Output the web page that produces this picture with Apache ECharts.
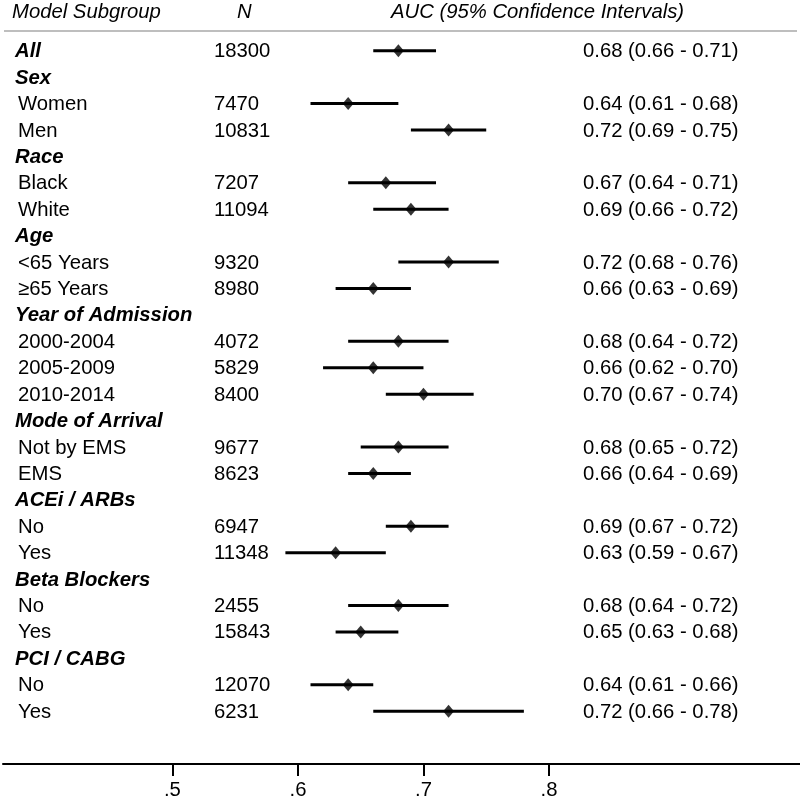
<!DOCTYPE html>
<html>
<head>
<meta charset="utf-8">
<style>html,body{margin:0;padding:0;background:#fff;}#chart{width:800px;height:801px;}</style>
<script src="https://cdn.jsdelivr.net/npm/echarts@6/dist/echarts.min.js"></script>
</head>
<body>
<div id="chart"></div>
<script>
const rowLabels = ['All','Sex','Women','Men','Race','Black','White','Age','<65 Years','≥65 Years','Year of Admission','2000-2004','2005-2009','2010-2014','Mode of Arrival','Not by EMS','EMS','ACEi / ARBs','No','Yes','Beta Blockers','No','Yes','PCI / CABG','No','Yes'];
const isHeader = [1,1,0,0,1,0,0,1,0,0,1,0,0,0,1,0,0,1,0,0,1,0,0,1,0,0];
const nValues = [18300,null,7470,10831,null,7207,11094,null,9320,8980,null,4072,5829,8400,null,9677,8623,null,6947,11348,null,2455,15843,null,12070,6231];
const auc    = [0.68,null,0.64,0.72,null,0.67,0.69,null,0.72,0.66,null,0.68,0.66,0.70,null,0.68,0.66,null,0.69,0.63,null,0.68,0.65,null,0.64,0.72];
const ciLow  = [0.66,null,0.61,0.69,null,0.64,0.66,null,0.68,0.63,null,0.64,0.62,0.67,null,0.65,0.64,null,0.67,0.59,null,0.64,0.63,null,0.61,0.66];
const ciHigh = [0.71,null,0.68,0.75,null,0.71,0.72,null,0.76,0.69,null,0.72,0.70,0.74,null,0.72,0.69,null,0.72,0.67,null,0.72,0.68,null,0.66,0.78];
const tickValues = [0.5,0.6,0.7,0.8];
const tickLabels = ['.5','.6','.7','.8'];
const headers = ['Model Subgroup','N','AUC (95% Confidence Intervals)'];

const FONT = "'Liberation Sans', Arial, sans-serif";
const FS = 20.3;
const chart = echarts.init(document.getElementById('chart'), null, {renderer:'canvas'});

const rowData = rowLabels.map((_, i) => [i]);
const ciData = [];
const ptData = [];
auc.forEach((v, i) => {
  if (v != null) {
    ciData.push([ciLow[i], ciHigh[i], i]);
    ptData.push([v, i]);
  }
});

const option = {
  animation: false,
  backgroundColor: '#fff',
  grid: {left: 3, right: 0, top: 24.26, bottom: 37, containLabel: false},
  xAxis: {
    type: 'value', min: 0.365, max: 1.0, position: 'bottom',
    axisLine: {show: true, onZero: false, lineStyle: {color: '#000', width: 2}},
    axisTick: {show: true, length: 12, lineStyle: {color: '#000', width: 2}, customValues: tickValues},
    axisLabel: {show: true, color: '#000', fontSize: FS, fontFamily: FONT, margin: 16,
      customValues: tickValues,
      formatter: v => { const k = tickValues.findIndex(t => Math.abs(t - v) < 1e-9); return k >= 0 ? tickLabels[k] : ''; }},
    splitLine: {show: false}
  },
  yAxis: {type: 'value', min: -1, max: 27, inverse: true, show: false},
  graphic: [
    {type: 'text', left: 12, top: 2, style: {text: headers[0], font: 'italic ' + FS + 'px ' + FONT, fill: '#000'}},
    {type: 'text', left: 237, top: 2, style: {text: headers[1], font: 'italic ' + FS + 'px ' + FONT, fill: '#000'}},
    {type: 'text', left: 391, top: 2, style: {text: headers[2], font: 'italic ' + FS + 'px ' + FONT, fill: '#000'}},
    {type: 'line', shape: {x1: 4, y1: 31, x2: 797, y2: 31}, style: {stroke: '#a8a8a8', lineWidth: 1.5}}
  ],
  series: [
    {
      type: 'custom', data: rowData, clip: false, silent: true,
      renderItem: (params, api) => {
        const i = api.value(0);
        const y = api.coord([0.5, i])[1] + 1;
        const children = [];
        const bold = isHeader[i];
        children.push({type: 'text', x: bold ? 15 : 18, y: y, style: {
          text: rowLabels[i], fontSize: FS, fontFamily: FONT,
          fontWeight: bold ? 'bold' : 'normal', fontStyle: bold ? 'italic' : 'normal',
          fill: '#000', align: 'left', verticalAlign: 'middle'}});
        if (nValues[i] != null) {
          children.push({type: 'text', x: 214, y: y, style: {text: String(nValues[i]), fontSize: FS, fontFamily: FONT,
            fill: '#000', align: 'left', verticalAlign: 'middle'}});
          children.push({type: 'text', x: 583, y: y, style: {
            text: auc[i].toFixed(2) + ' (' + ciLow[i].toFixed(2) + ' - ' + ciHigh[i].toFixed(2) + ')',
            fontSize: FS, fontFamily: FONT, fill: '#000', align: 'left', verticalAlign: 'middle'}});
        }
        return {type: 'group', children: children};
      }
    },
    {
      type: 'custom', data: ciData, clip: false, silent: true,
      encode: {x: [0, 1], y: 2},
      renderItem: (params, api) => {
        const a = api.coord([api.value(0), api.value(2)]);
        const b = api.coord([api.value(1), api.value(2)]);
        return {type: 'line', shape: {x1: a[0], y1: a[1], x2: b[0], y2: b[1]}, style: {stroke: '#000', lineWidth: 3}};
      }
    },
    {
      type: 'scatter', data: ptData, symbol: 'diamond', symbolSize: [11, 13],
      itemStyle: {color: '#000'}, silent: true, z: 5
    }
  ]
};
chart.setOption(option);
</script>
</body>
</html>
